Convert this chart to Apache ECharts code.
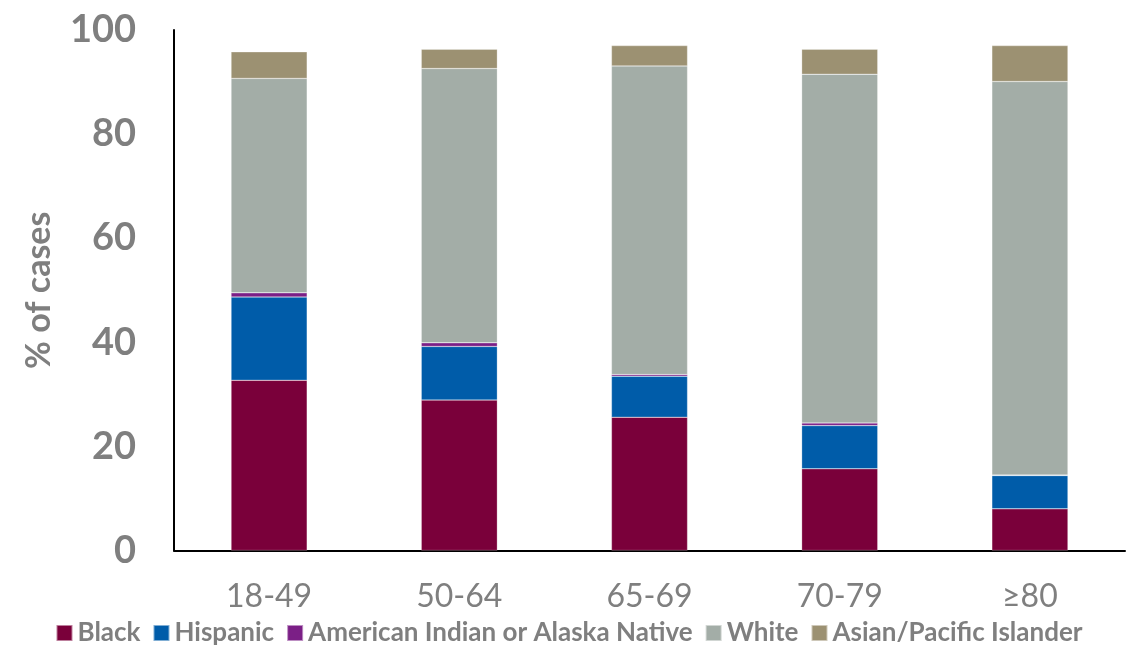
<!DOCTYPE html>
<html>
<head>
<meta charset="utf-8">
<script src="https://cdn.jsdelivr.net/npm/echarts@6/dist/echarts.min.js"></script>
<style>
  html, body { margin: 0; padding: 0; background: #fff; }
  #chart { width: 1138px; height: 647px; }
</style>
</head>
<body>
<div id="chart"></div>
<script>
// Age groups on the x axis
const ageGroups = ['18-49', '50-64', '65-69', '70-79', '≥80'];

// Share of cases (%) by race/ethnicity within each age group
const black    = [32.7, 28.9, 25.6, 15.7, 8.0];
const hispanic = [16.0, 10.3, 7.9, 8.3, 6.4];
const amIndian = [0.8, 0.7, 0.3, 0.5, 0.1];
const white    = [41.2, 52.7, 59.3, 67.0, 75.6];
const asianPI  = [5.1, 3.7, 3.9, 4.8, 6.9];

const yTicks = [0, 20, 40, 60, 80, 100];

const gray = '#7f7f7f';
const font = 'Lato, "Open Sans", "Liberation Sans", sans-serif';

const seriesDefs = [
  { name: 'Black', data: black, color: '#7a003a' },
  { name: 'Hispanic', data: hispanic, color: '#005ca9' },
  { name: 'American Indian or Alaska Native', data: amIndian, color: '#7b1f86' },
  { name: 'White', data: white, color: '#a3ada7' },
  { name: 'Asian/Pacific Islander', data: asianPI, color: '#9c9172' }
];

const chart = echarts.init(document.getElementById('chart'), null, { renderer: 'canvas' });

chart.setOption({
  animation: false,
  backgroundColor: '#fff',
  grid: { left: 174, right: 13, top: 30, bottom: 96.5, containLabel: false },
  legend: {
    bottom: 1,
    left: 'center',
    padding: 0,
    itemWidth: 16,
    itemHeight: 16,
    itemGap: 12,
    icon: 'rect',
    textStyle: { color: gray, fontSize: 26, fontWeight: 'bold', fontFamily: font },
    data: seriesDefs.map(s => s.name)
  },
  xAxis: {
    type: 'category',
    data: ageGroups,
    axisLine: { show: true, lineStyle: { color: '#000', width: 2 } },
    axisTick: { show: false },
    axisLabel: { color: gray, fontSize: 32, fontFamily: font, margin: 30 }
  },
  yAxis: {
    type: 'value',
    min: 0,
    max: 100,
    interval: 20,
    name: '% of cases',
    nameLocation: 'middle',
    nameGap: 118,
    nameRotate: 90,
    nameTextStyle: { color: gray, fontSize: 34, fontWeight: 'bold', fontFamily: font },
    axisLine: { show: true, lineStyle: { color: '#000', width: 2 } },
    axisTick: { show: false },
    splitLine: { show: false },
    axisLabel: {
      color: gray, fontSize: 38, fontWeight: 'bold', fontFamily: font, margin: 38,
      formatter: v => (yTicks.includes(v) ? String(v) : '')
    }
  },
  series: seriesDefs.map(s => ({
    name: s.name,
    type: 'bar',
    stack: 'total',
    barWidth: '40%',
    data: s.data,
    itemStyle: { color: s.color, borderColor: 'rgba(255,255,255,0.5)', borderWidth: 0.5 }
  }))
});
</script>
</body>
</html>
